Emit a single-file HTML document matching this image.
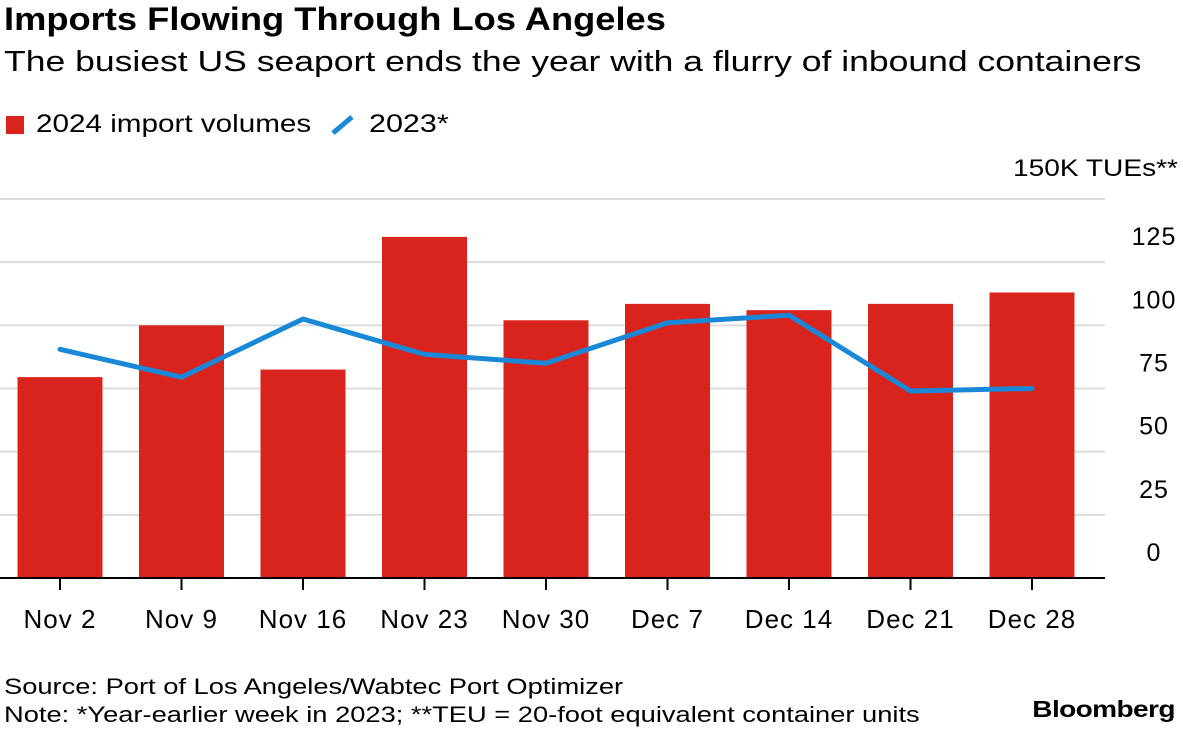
<!DOCTYPE html>
<html><head><meta charset="utf-8"><style>
body{margin:0;background:#fff;font-family:"Liberation Sans",sans-serif;color:#000}
.t{position:absolute;white-space:nowrap;transform-origin:left top}
</style></head><body>
<div style="position:relative;width:1183px;height:729px;overflow:hidden">
<div class="t" style="left:4px;top:1px;font-size:32px;font-weight:bold;transform:scaleX(1.134)">Imports Flowing Through Los Angeles</div>
<div class="t" style="left:4px;top:46px;font-size:29px;transform:scaleX(1.225)">The busiest US seaport ends the year with a flurry of inbound containers</div>
<div class="t" style="left:6px;top:116px;width:18px;height:18px;background:#d9241d"></div>
<div class="t" style="left:36px;top:110px;font-size:25px;transform:scaleX(1.186)">2024 import volumes</div>
<svg class="t" width="26" height="22" style="left:330px;top:114px"><line x1="3" y1="19" x2="22" y2="3" stroke="#1a88d8" stroke-width="5"/></svg>
<div class="t" style="left:369px;top:110px;font-size:25px;transform:scaleX(1.22)">2023*</div>
<div class="t" style="right:5px;top:155px;font-size:24px;transform-origin:right top;transform:scaleX(1.17)">150K TUEs**</div>
<svg id="plot" width="1183" height="729" style="position:absolute;left:0;top:0"></svg>
<div class="t" style="left:4px;top:673px;font-size:22px;line-height:28px;transform:scaleX(1.24)">Source: Port of Los Angeles/Wabtec Port Optimizer<br>Note: *Year-earlier week in 2023; **TEU = 20-foot equivalent container units</div>
<div class="t" style="right:8px;top:696px;font-size:23px;font-weight:bold;letter-spacing:-0.5px;transform-origin:right top;transform:scaleX(1.22)">Bloomberg</div>
</div>
<script>
const categories=["Nov 2","Nov 9","Nov 16","Nov 23","Nov 30","Dec 7","Dec 14","Dec 21","Dec 28"];
const imports2024=[79.5,100,82.5,135,102,108.5,106,108.5,113];
const volumes2023=[90.5,79.5,102.5,88.5,85,101,104,74,75];
const yTicks=[0,25,50,75,100,125];
const NS="http://www.w3.org/2000/svg";
const svg=document.getElementById('plot');
const y=v=>578-v*(379/150);
const x=i=>60+i*121.5;
function mk(t,a){const e=document.createElementNS(NS,t);for(const k in a)e.setAttribute(k,a[k]);svg.appendChild(e);return e;}
[...yTicks,150].forEach(v=>{if(v===0)return;const g=mk('line',{x1:0,x2:1105,y1:y(v),y2:y(v),stroke:'#dcdcdc','stroke-width':2});

});
yTicks.forEach(v=>{const t=mk('text',{x:1154,y:y(v)-17,'text-anchor':'middle','font-size':25,'letter-spacing':1,'font-family':'Liberation Sans'});t.textContent=v;

});
imports2024.forEach((v,i)=>{const r=mk('rect',{x:x(i)-42.5,y:y(v),width:85,height:y(0)-y(v),fill:'#d9241d'});

});
const b=mk('line',{x1:0,x2:1105,y1:578,y2:578,stroke:'#000','stroke-width':2});


categories.forEach((c,i)=>{const tk=mk('line',{x1:x(i),x2:x(i),y1:579,y2:590,stroke:'#000','stroke-width':2});


const t=mk('text',{x:x(i),y:628,'text-anchor':'middle','font-size':26,'letter-spacing':1,'font-family':'Liberation Sans'});t.textContent=c;

});
const p=mk('polyline',{points:volumes2023.map((v,i)=>x(i)+','+y(v)).join(' '),fill:'none',stroke:'#1a88d8','stroke-width':5,'stroke-linejoin':'round','stroke-linecap':'round'});


</script>
</body></html>
